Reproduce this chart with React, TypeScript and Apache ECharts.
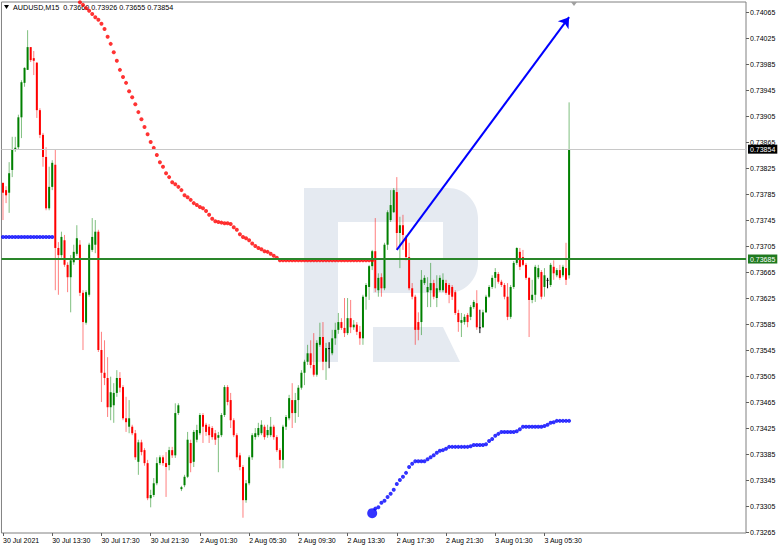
import React, { useEffect, useRef } from "react";
import * as echarts from "echarts";

const symbolName = "AUDUSD,M15";
const xTickLabels = [
  "30 Jul 2021", "30 Jul 13:30", "30 Jul 17:30", "30 Jul 21:30", "2 Aug 01:30", "2 Aug 05:30",
  "2 Aug 09:30", "2 Aug 13:30", "2 Aug 17:30", "2 Aug 21:30", "3 Aug 01:30", "3 Aug 05:30",
];
const barsPerTick = 16;
const slotCount = 242;
const yTickValues = [
  0.73265, 0.73305, 0.73345, 0.73385, 0.73425, 0.73465, 0.73505, 0.73545, 0.73585, 0.73625, 0.73665,
  0.73705, 0.73745, 0.73785, 0.73825, 0.73865, 0.73905, 0.73945, 0.73985, 0.74025, 0.74065,
];
const yMin = 0.732635;
const yMax = 0.740804;

const opens = [
  0.73802, 0.73791, 0.73787, 0.73822, 0.73853, 0.73857, 0.73903, 0.73956, 0.73976, 0.74011,
  0.73994, 0.73987, 0.73914, 0.73876, 0.73842, 0.73763, 0.73796, 0.7383, 0.73702, 0.73691,
  0.73714, 0.73676, 0.73657, 0.7368, 0.73693, 0.73707, 0.73633, 0.73587, 0.7363, 0.73699,
  0.73707, 0.73727, 0.73545, 0.7351, 0.73502, 0.73457, 0.7346, 0.73479, 0.73502, 0.73488,
  0.7344, 0.73427, 0.73427, 0.73417, 0.73373, 0.73403, 0.73391, 0.73371, 0.73317, 0.73322,
  0.7334, 0.73371, 0.7338, 0.73371, 0.73368, 0.73391, 0.73383, 0.73448, 0.73331, 0.73337,
  0.7335, 0.73402, 0.73373, 0.73407, 0.73417, 0.73445, 0.7343, 0.73427, 0.73425, 0.73417,
  0.7341, 0.73414, 0.73445, 0.73488, 0.73468, 0.73437, 0.73414, 0.73383, 0.73365, 0.73314,
  0.7334, 0.7338, 0.73411, 0.73414, 0.73417, 0.73427, 0.73414, 0.73414, 0.73427, 0.73411,
  0.73391, 0.73376, 0.73427, 0.7344, 0.73468, 0.73448, 0.73468, 0.73487, 0.7351, 0.73527,
  0.7354, 0.73522, 0.73507, 0.73553, 0.73565, 0.73527, 0.73548, 0.7354, 0.73563, 0.73576,
  0.73588, 0.73579, 0.73571, 0.73594, 0.7358, 0.73584, 0.73573, 0.73563, 0.73627, 0.73642,
  0.73674, 0.73697, 0.73637, 0.73657, 0.7364, 0.73707, 0.73745, 0.73757, 0.73788, 0.73725,
  0.73737, 0.73719, 0.73688, 0.7364, 0.73627, 0.73588, 0.73588, 0.73648, 0.73634, 0.73637,
  0.73648, 0.73625, 0.73637, 0.73637, 0.73648, 0.73645, 0.73642, 0.73634, 0.73602, 0.73587,
  0.73588, 0.73599, 0.73596, 0.73611, 0.73617, 0.7358, 0.7358, 0.73603, 0.73627, 0.73642,
  0.73656, 0.73662, 0.7365, 0.73645, 0.73627, 0.73596, 0.73642, 0.73679, 0.73696, 0.73688,
  0.73676, 0.73656, 0.73622, 0.7363, 0.73657, 0.73665, 0.73642, 0.73653, 0.73645, 0.73673,
  0.7366, 0.73668, 0.7366, 0.73671, 0.7366,
];
const highs = [
  0.73803, 0.73797, 0.73834, 0.73873, 0.73873, 0.73907, 0.7396, 0.7398, 0.74037, 0.74011,
  0.74005, 0.73988, 0.73917, 0.73879, 0.73857, 0.73827, 0.73837, 0.73853, 0.73711, 0.73727,
  0.73722, 0.7368, 0.73691, 0.73707, 0.73737, 0.73714, 0.73637, 0.73637, 0.7371, 0.73748,
  0.73745, 0.7373, 0.73573, 0.7356, 0.73534, 0.73504, 0.73494, 0.73514, 0.73511, 0.73491,
  0.73473, 0.73468, 0.7343, 0.73422, 0.73407, 0.73407, 0.73394, 0.73376, 0.7333, 0.73348,
  0.7338, 0.73383, 0.73383, 0.73388, 0.73396, 0.73396, 0.73463, 0.73463, 0.73336, 0.73353,
  0.73419, 0.73407, 0.73422, 0.7343, 0.73448, 0.73448, 0.73433, 0.73431, 0.73428, 0.73422,
  0.73419, 0.73448, 0.73491, 0.73491, 0.73479, 0.7344, 0.73417, 0.73387, 0.73368, 0.73345,
  0.73383, 0.73417, 0.73425, 0.73433, 0.73437, 0.7343, 0.7343, 0.73442, 0.7343, 0.73414,
  0.73394, 0.7343, 0.73445, 0.73476, 0.73494, 0.73479, 0.73491, 0.73514, 0.7353, 0.73553,
  0.7356, 0.73571, 0.7356, 0.73587, 0.73588, 0.73556, 0.73557, 0.73576, 0.73587, 0.73602,
  0.73594, 0.73625, 0.73625, 0.73622, 0.73591, 0.73588, 0.73582, 0.7363, 0.73648, 0.73676,
  0.73699, 0.73748, 0.73663, 0.73663, 0.7371, 0.7376, 0.73791, 0.73794, 0.73811, 0.7375,
  0.73753, 0.73722, 0.7371, 0.73648, 0.7363, 0.73603, 0.73668, 0.7366, 0.73657, 0.73679,
  0.73653, 0.7366, 0.7366, 0.73663, 0.73653, 0.73648, 0.73645, 0.73637, 0.73607, 0.73602,
  0.736, 0.73602, 0.73614, 0.73622, 0.73637, 0.73607, 0.73607, 0.7363, 0.73645, 0.7366,
  0.73671, 0.73665, 0.73653, 0.73648, 0.73648, 0.73645, 0.73682, 0.73703, 0.73702, 0.73699,
  0.73679, 0.73657, 0.73653, 0.73676, 0.73676, 0.73668, 0.73671, 0.73656, 0.73679, 0.73683,
  0.73671, 0.73676, 0.73676, 0.7371, 0.73926,
];
const lows = [
  0.73745, 0.73771, 0.73756, 0.73811, 0.7385, 0.73853, 0.73871, 0.7395, 0.73976, 0.73988,
  0.73968, 0.73902, 0.73871, 0.73827, 0.7376, 0.7376, 0.73791, 0.73637, 0.7363, 0.73687,
  0.73673, 0.73634, 0.73603, 0.73676, 0.7369, 0.73628, 0.73545, 0.73584, 0.73627, 0.73696,
  0.73694, 0.73542, 0.73465, 0.73491, 0.73442, 0.73437, 0.73433, 0.73473, 0.7348, 0.73437,
  0.73419, 0.73417, 0.73414, 0.73376, 0.73353, 0.73383, 0.73367, 0.73314, 0.73303, 0.73319,
  0.73337, 0.73368, 0.73367, 0.73319, 0.7336, 0.73379, 0.73379, 0.73445, 0.73328, 0.73334,
  0.73348, 0.73357, 0.73365, 0.73403, 0.73414, 0.73402, 0.73413, 0.73402, 0.73407, 0.73399,
  0.73357, 0.73411, 0.73442, 0.7346, 0.73425, 0.73411, 0.73376, 0.7336, 0.73287, 0.7331,
  0.73337, 0.73376, 0.73407, 0.73411, 0.73414, 0.73407, 0.7341, 0.73411, 0.73407, 0.73388,
  0.73363, 0.73363, 0.73422, 0.73437, 0.73425, 0.73433, 0.73442, 0.73484, 0.73491, 0.73522,
  0.73517, 0.73504, 0.73504, 0.7355, 0.73514, 0.73499, 0.73517, 0.73537, 0.73553, 0.7357,
  0.73576, 0.73565, 0.73568, 0.73571, 0.73576, 0.73568, 0.73553, 0.73553, 0.73607, 0.73622,
  0.73668, 0.73634, 0.73627, 0.73627, 0.73637, 0.73699, 0.73742, 0.73756, 0.73699, 0.73671,
  0.73699, 0.73683, 0.73637, 0.73623, 0.73553, 0.7356, 0.73568, 0.73645, 0.73611, 0.73611,
  0.73623, 0.73611, 0.73634, 0.73634, 0.7363, 0.73617, 0.73622, 0.73599, 0.73573, 0.73565,
  0.73584, 0.7358, 0.73591, 0.73608, 0.73576, 0.73571, 0.73579, 0.73602, 0.73625, 0.73639,
  0.7364, 0.73647, 0.73642, 0.73623, 0.73591, 0.73593, 0.73639, 0.73676, 0.73668, 0.73674,
  0.73653, 0.73565, 0.73617, 0.73619, 0.73654, 0.73623, 0.73627, 0.7364, 0.73642, 0.73653,
  0.73657, 0.73653, 0.73657, 0.73645, 0.73655,
];
const closes = [
  0.73787, 0.73783, 0.73817, 0.73853, 0.73856, 0.73903, 0.73957, 0.73979, 0.74011, 0.73991,
  0.7399, 0.73914, 0.73876, 0.73842, 0.73763, 0.73796, 0.73833, 0.73702, 0.73691, 0.73719,
  0.73676, 0.73657, 0.73683, 0.73696, 0.73717, 0.73633, 0.73588, 0.73634, 0.73707, 0.73719,
  0.73727, 0.73545, 0.7351, 0.73502, 0.73457, 0.7348, 0.73479, 0.73502, 0.73487, 0.7344,
  0.73434, 0.7344, 0.73417, 0.7338, 0.73403, 0.73388, 0.73371, 0.73317, 0.73322, 0.7334,
  0.73371, 0.7338, 0.73371, 0.73365, 0.73391, 0.73383, 0.73448, 0.7346, 0.73334, 0.7335,
  0.73407, 0.73371, 0.73419, 0.73422, 0.73445, 0.73427, 0.73419, 0.73414, 0.73411, 0.73407,
  0.73414, 0.73445, 0.73488, 0.73465, 0.73437, 0.73414, 0.7338, 0.73365, 0.73314, 0.7334,
  0.7338, 0.73414, 0.73417, 0.73425, 0.7343, 0.73411, 0.73422, 0.73427, 0.73411, 0.73391,
  0.73376, 0.73427, 0.73442, 0.73471, 0.73448, 0.73468, 0.73487, 0.7351, 0.73527, 0.7354,
  0.73522, 0.73507, 0.73556, 0.73565, 0.73527, 0.73548, 0.73548, 0.73563, 0.73576, 0.73588,
  0.73579, 0.73571, 0.73594, 0.7358, 0.73584, 0.73573, 0.73563, 0.73627, 0.73645, 0.73674,
  0.73697, 0.7364, 0.73656, 0.7364, 0.73707, 0.73757, 0.73768, 0.73791, 0.73725, 0.73737,
  0.73722, 0.73688, 0.7364, 0.73627, 0.73576, 0.73576, 0.73653, 0.73656, 0.73642, 0.73648,
  0.73627, 0.7364, 0.73656, 0.73653, 0.73633, 0.7363, 0.73627, 0.73602, 0.73588, 0.73591,
  0.73596, 0.73588, 0.73611, 0.73619, 0.7358, 0.7358, 0.73603, 0.73627, 0.73642, 0.73656,
  0.73665, 0.7365, 0.73645, 0.73627, 0.73596, 0.73642, 0.73679, 0.73702, 0.73673, 0.73676,
  0.73656, 0.73622, 0.7363, 0.73673, 0.73671, 0.73627, 0.7366, 0.73653, 0.73676, 0.73663,
  0.73668, 0.73656, 0.73673, 0.73653, 0.73854,
];

// indicator dots (one per bar)
const redDotStart = 24;
const redDots = [
  0.74083, 0.7408, 0.74076, 0.74071, 0.74067, 0.74062, 0.74057, 0.74053, 0.74047, 0.74039,
  0.74027, 0.74016, 0.74003, 0.7399, 0.73976, 0.73965, 0.73956, 0.73943, 0.73934, 0.73923,
  0.73911, 0.739, 0.73888, 0.73877, 0.73865, 0.73856, 0.73845, 0.73834, 0.73827, 0.73817,
  0.73811, 0.73803, 0.738, 0.73796, 0.73791, 0.73783, 0.7378, 0.73776, 0.73771, 0.73768,
  0.73765, 0.73763, 0.73759, 0.73753, 0.73747, 0.73743, 0.73742, 0.73741, 0.7374, 0.7374,
  0.73739, 0.73734, 0.7373, 0.73723, 0.73719, 0.73717, 0.73714, 0.73709, 0.73705, 0.73702,
  0.737, 0.73697, 0.73696, 0.73693, 0.7369, 0.73687,
  0.73683, 0.73683, 0.73683, 0.73683, 0.73683, 0.73683, 0.73683, 0.73683, 0.73683, 0.73683,
  0.73683, 0.73683, 0.73683, 0.73683, 0.73683, 0.73683, 0.73683, 0.73683, 0.73683, 0.73683,
  0.73683, 0.73683, 0.73683, 0.73683, 0.73683, 0.73683, 0.73683, 0.73683, 0.73683, 0.73683,
  0.73683,
];
const blueLeftStart = 0;
const blueLeftDots = [
  0.73719, 0.73719, 0.73719, 0.73719, 0.73719, 0.73719, 0.73719, 0.73719, 0.73719, 0.73719,
  0.73719, 0.73719, 0.73719, 0.73719, 0.73719, 0.73719, 0.73719,
];
const blueRightStart = 120;
const blueRightDots = [
  0.73294, 0.73301, 0.73303, 0.7331, 0.73313, 0.73319, 0.73324, 0.7333, 0.73339, 0.73345,
  0.7335, 0.73356, 0.73365, 0.7337, 0.73374, 0.73374, 0.73374, 0.73374, 0.73377, 0.7338,
  0.73383, 0.73387, 0.7339, 0.73391, 0.73393, 0.73396, 0.73396, 0.73396, 0.73396, 0.73396,
  0.73396, 0.73396, 0.73397, 0.73399, 0.73399, 0.73399, 0.73399, 0.734, 0.73405, 0.73408,
  0.73413, 0.73416, 0.73419, 0.73419, 0.73419, 0.73419, 0.73419, 0.7342, 0.73423, 0.73427,
  0.73427, 0.73427, 0.73427, 0.73427, 0.73427, 0.73427, 0.73428, 0.7343, 0.73433, 0.73434,
  0.73436, 0.73436, 0.73436, 0.73436, 0.73436,
];

const horizontalLevel = 0.73685;
const arrowFromBar = 128;
const arrowFromPrice = 0.73699;
const arrowToBar = 184;
const arrowToPrice = 0.74057;

const FONT = "Liberation Sans";

function buildCategories(): string[] {
  const days = ["30 Jul", "2 Aug", "3 Aug", "4 Aug"];
  let d = 0;
  let m = 9 * 60 + 30;
  const out: string[] = [];
  for (let i = 0; i < slotCount; i++) {
    const hh = String(Math.floor(m / 60)).padStart(2, "0");
    const mm = String(m % 60).padStart(2, "0");
    out.push(`${days[d]} ${hh}:${mm}`);
    m += 15;
    if (m >= 1440) {
      m -= 1440;
      d += 1;
    }
  }
  return out;
}

const logoPath =
  "M304 188 L448 188 C464.6 188 478 201.4 478 218 L478 263 C478 279.6 464.6 293 448 293 L373 293 L373 258 L443 258 L443 222 L338 222 L338 362 L304 362 Z M373 327 L443 327 L460 362 L373 362 Z";

let logoRegistered = false;

export default function App() {
  const ref = useRef<HTMLDivElement>(null);

  useEffect(() => {
    if (!ref.current) return;
    if (!logoRegistered) {
      echarts.graphic.registerShape("rlogo", echarts.graphic.extendPath(logoPath, {}) as any);
      logoRegistered = true;
    }
    const chart = echarts.init(ref.current, null, { renderer: "svg" });
    const categories = buildCategories();
    const last = closes.length - 1;
    const fmt = (v: number) => v.toFixed(5);
    const candleData = opens.map((o, i) => [i, o, closes[i], lows[i], highs[i]]);
    const tickShown = (idx: number) => idx % barsPerTick === 0 && idx / barsPerTick < xTickLabels.length;

    const option: any = {
      animation: false,
      backgroundColor: "#ffffff",
      grid: {
        left: 0,
        right: 36,
        top: 2,
        bottom: 17,
        show: true,
        borderColor: "#808080",
        borderWidth: 1,
        backgroundColor: "transparent",
      },
      graphic: [
        { type: "rlogo", x: 0, y: 0, z: 0, silent: true, style: { fill: "#e5eaf1" } },
        {
          type: "polygon",
          z: 0,
          silent: true,
          shape: { points: [[4, 5], [9, 5], [6.5, 9]] },
          style: { fill: "#000" },
        },
        {
          type: "text",
          x: 13,
          y: 7,
          z: 0,
          silent: true,
          style: {
            text: `${symbolName}  ${fmt(opens[last])} ${fmt(highs[last])} ${fmt(lows[last])} ${fmt(closes[last])}`,
            fontSize: 7.2,
            fontFamily: FONT,
            fill: "#000",
            verticalAlign: "middle",
          },
        },
        {
          type: "polygon",
          z: 5,
          silent: true,
          shape: { points: [[571, 2], [577, 2], [574, 6]] },
          style: { fill: "#a0a0a0" },
        },
      ],
      xAxis: {
        type: "category",
        data: categories,
        boundaryGap: true,
        axisLine: { show: false },
        axisTick: {
          show: true,
          alignWithLabel: true,
          interval: (idx: number) => tickShown(idx),
          length: 3,
          lineStyle: { color: "#606060" },
        },
        axisLabel: {
          interval: (idx: number) => tickShown(idx),
          formatter: (_v: string, idx: number) =>
            tickShown(idx) ? xTickLabels[idx / barsPerTick] : "",
          align: "left",
          margin: 4,
          fontSize: 7,
          fontFamily: FONT,
          color: "#000",
        },
        splitLine: { show: false },
      },
      yAxis: {
        type: "value",
        position: "right",
        min: yMin,
        max: yMax,
        axisLine: { show: false },
        axisTick: { show: true, length: 3, customValues: yTickValues, lineStyle: { color: "#606060" } },
        axisLabel: {
          customValues: yTickValues,
          formatter: (v: number) => v.toFixed(5),
          fontSize: 7,
          fontFamily: FONT,
          color: "#000",
          margin: 4,
        },
        splitLine: { show: false },
      },
      series: [
        {
          type: "custom",
          z: 2,
          clip: true,
          data: candleData,
          encode: { x: 0, y: [1, 2, 3, 4] },
          renderItem: (_params: any, api: any) => {
            const i = api.value(0);
            const o = api.value(1);
            const c = api.value(2);
            const l = api.value(3);
            const h = api.value(4);
            const pO = api.coord([i, o]);
            const pC = api.coord([i, c]);
            const pL = api.coord([i, l]);
            const pH = api.coord([i, h]);
            const x = pO[0];
            const flat = c === o;
            const up = c > o;
            const body = flat ? "#000000" : up ? "#008000" : "#ff0000";
            const wick = flat ? "#000000" : up ? "rgba(0,128,0,0.5)" : "rgba(255,0,0,0.5)";
            const top = Math.min(pO[1], pC[1]);
            const hgt = Math.max(Math.abs(pO[1] - pC[1]), 1);
            return {
              type: "group",
              children: [
                {
                  type: "line",
                  shape: { x1: x, y1: pH[1], x2: x, y2: pL[1] },
                  style: { stroke: wick, lineWidth: 1 },
                },
                {
                  type: "rect",
                  shape: { x: x - 1, y: top, width: 2, height: hgt },
                  style: { fill: body },
                },
              ],
            };
          },
        },
        {
          type: "scatter",
          z: 3,
          clip: true,
          symbolSize: 4,
          itemStyle: { color: "#ff0000" },
          data: redDots.map((v, k) => [redDotStart + k, v]),
          markLine: {
            silent: true,
            precision: 5,
            symbol: ["none", "none"],
            animation: false,
            data: [
              {
                yAxis: closes[last],
                lineStyle: { color: "#c8c8c8", width: 1, type: "solid" },
                label: {
                  show: true,
                  position: "end",
                  distance: 2,
                  formatter: fmt(closes[last]),
                  color: "#fff",
                  backgroundColor: "#000",
                  padding: [1, 2, 1, 2],
                  fontSize: 7,
                  fontFamily: FONT,
                },
              },
              {
                yAxis: horizontalLevel,
                lineStyle: { color: "#2a862a", width: 2, type: "solid" },
                label: {
                  show: true,
                  position: "end",
                  distance: 2,
                  formatter: fmt(horizontalLevel),
                  color: "#fff",
                  backgroundColor: "#1f7a1f",
                  padding: [1, 2, 1, 2],
                  fontSize: 7,
                  fontFamily: FONT,
                },
              },
              [
                {
                  coord: [categories[arrowFromBar], arrowFromPrice],
                  symbol: "none",
                  lineStyle: { color: "#0000ff", width: 2, type: "solid" },
                  label: { show: false },
                },
                { coord: [categories[arrowToBar], arrowToPrice], symbol: "arrow", symbolSize: 10 },
              ],
            ],
          },
        },
        {
          type: "scatter",
          z: 3,
          clip: true,
          symbolSize: 4,
          itemStyle: { color: "#0000ff" },
          data: blueLeftDots.map((v, k) => [blueLeftStart + k, v]),
        },
        {
          type: "scatter",
          z: 3,
          clip: true,
          itemStyle: { color: "#0000ff" },
          symbolSize: (_v: any, p: any) => (p.dataIndex === 0 ? 10 : 4),
          data: blueRightDots.map((v, k) => [blueRightStart + k, v]),
        },
      ],
    };
    chart.setOption(option);
    return () => chart.dispose();
  }, []);

  return (
    <div
      ref={ref}
      style={{ position: "fixed", left: 0, top: 0, width: 782, height: 550, background: "#fff" }}
    />
  );
}
